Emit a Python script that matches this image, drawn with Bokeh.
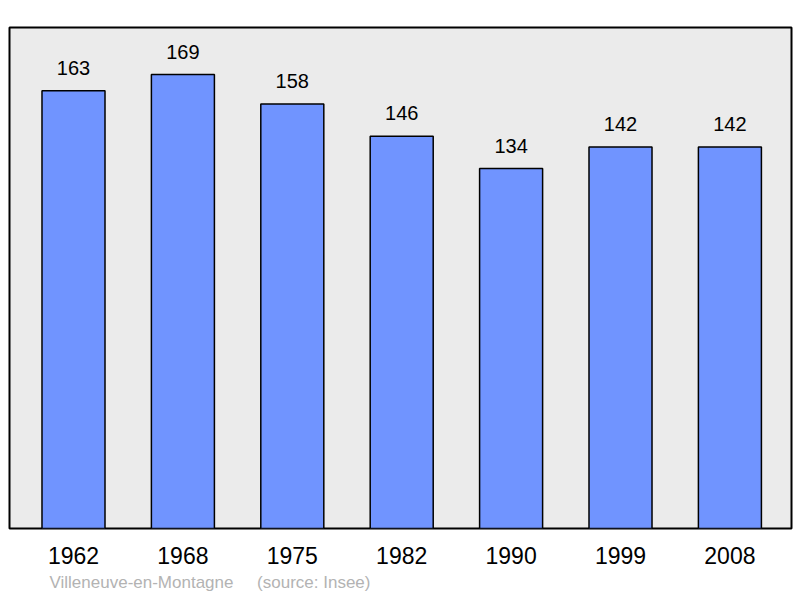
from bokeh.plotting import figure
from bokeh.models import Range1d, FixedTicker, ColumnDataSource, Title
from bokeh.core.properties import value
from bokeh.embed import file_html
from bokeh.resources import INLINE

years = ["1962", "1968", "1975", "1982", "1990", "1999", "2008"]
population = [163, 169, 158, 146, 134, 142, 142]
source_text = "Villeneuve-en-Montagne\u00a0\u00a0\u00a0\u00a0 (source: Insee)"

xs = list(range(len(years)))
src = ColumnDataSource(data=dict(x=xs, top=population,
                                 label=[str(v) for v in population]))

p = figure(width=796, height=596, output_backend="svg", toolbar_location=None,
           x_range=Range1d(-0.585, 6.563), y_range=Range1d(0, 186.5),
           min_border_left=9, min_border_right=5, min_border_top=27,
           min_border_bottom=68, background_fill_color="#EBEBEB",
           border_fill_color="white")
p.outline_line_color = "black"
p.outline_line_width = 2
p.grid.visible = False
p.yaxis.visible = False

p.vbar(x="x", top="top", width=0.576, bottom=0, source=src,
       fill_color="#7094FF", line_color="black", line_width=1.5)
p.text(x="x", y="top", text="label", source=src, y_offset=-16,
       text_align="center", text_baseline="bottom",
       text_font=value("Liberation Sans"), text_font_size="20px",
       text_color="black")

ax = p.xaxis[0]
ax.ticker = FixedTicker(ticks=xs)
ax.major_label_overrides = {i: y for i, y in enumerate(years)}
ax.axis_line_color = None
ax.major_tick_line_color = None
ax.minor_tick_line_color = None
ax.major_tick_out = 0
ax.major_label_standoff = 18
ax.major_label_text_font = "Liberation Sans"
ax.major_label_text_font_size = "23px"
ax.major_label_text_color = "black"

p.add_layout(Title(text=source_text, align="left", offset=40, standoff=8,
                   text_font="Liberation Sans", text_font_size="17px",
                   text_font_style="normal", text_color="#B3B3B3"), "below")

open("out.html", "w").write(file_html(p, INLINE))
